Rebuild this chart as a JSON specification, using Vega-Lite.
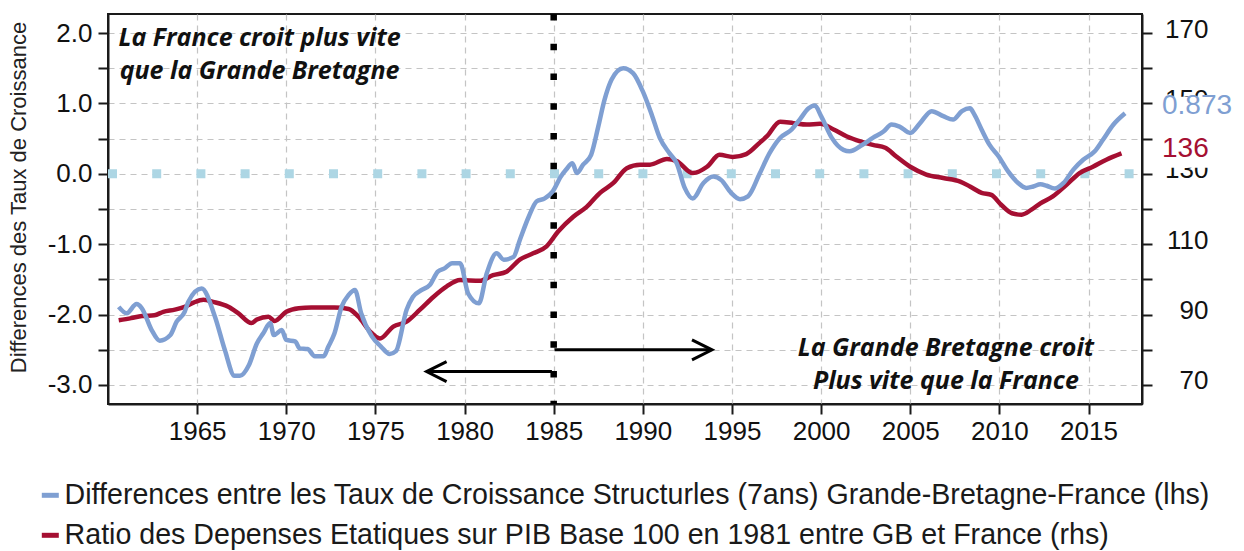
{
  "$schema": "https://vega.github.io/schema/vega-lite/v6.json",
  "width": 1034,
  "height": 390,
  "autosize": {"type": "none"},
  "padding": {"left": 108, "top": 14, "right": 102, "bottom": 147},
  "background": "white",
  "config": {
    "font": "Liberation Sans",
    "view": {"stroke": "#1a1a1a", "strokeWidth": 2},
    "axis": {
      "domainColor": "#1a1a1a", "domainWidth": 2,
      "tickColor": "#1a1a1a", "tickWidth": 2, "tickSize": 10,
      "labelColor": "#111111", "labelFontSize": 26, "labelFont": "Liberation Sans",
      "gridColor": "#c4c4c4", "gridDash": [6, 5], "gridWidth": 1.2
    }
  },
  "datasets": {
    "gb_fr": [
      {"year": 1960.6, "value": -1.89}, {"year": 1961.05, "value": -1.98}, {"year": 1961.6, "value": -1.85},
      {"year": 1961.9, "value": -1.91}, {"year": 1962.45, "value": -2.22}, {"year": 1962.9, "value": -2.37},
      {"year": 1963.5, "value": -2.29}, {"year": 1963.85, "value": -2.10}, {"year": 1964.3, "value": -1.96},
      {"year": 1964.5, "value": -1.82}, {"year": 1965.25, "value": -1.63}, {"year": 1966.0, "value": -2.03},
      {"year": 1966.55, "value": -2.50}, {"year": 1967.1, "value": -2.87}, {"year": 1967.4, "value": -2.87},
      {"year": 1967.9, "value": -2.72}, {"year": 1968.35, "value": -2.41}, {"year": 1968.7, "value": -2.27},
      {"year": 1969.1, "value": -2.12}, {"year": 1969.3, "value": -2.29}, {"year": 1969.75, "value": -2.22},
      {"year": 1970.0, "value": -2.36}, {"year": 1970.5, "value": -2.38}, {"year": 1970.75, "value": -2.48},
      {"year": 1971.2, "value": -2.49}, {"year": 1971.6, "value": -2.59}, {"year": 1972.1, "value": -2.59},
      {"year": 1972.35, "value": -2.46}, {"year": 1972.7, "value": -2.27}, {"year": 1973.1, "value": -1.89},
      {"year": 1973.5, "value": -1.72}, {"year": 1973.85, "value": -1.65}, {"year": 1974.2, "value": -1.98},
      {"year": 1974.8, "value": -2.31}, {"year": 1975.3, "value": -2.45}, {"year": 1975.8, "value": -2.56},
      {"year": 1976.15, "value": -2.52}, {"year": 1976.75, "value": -1.93}, {"year": 1977.1, "value": -1.75},
      {"year": 1977.6, "value": -1.65}, {"year": 1978.05, "value": -1.58}, {"year": 1978.5, "value": -1.39},
      {"year": 1978.9, "value": -1.34}, {"year": 1979.3, "value": -1.27}, {"year": 1979.75, "value": -1.27},
      {"year": 1980.2, "value": -1.70}, {"year": 1980.8, "value": -1.84}, {"year": 1981.25, "value": -1.41},
      {"year": 1981.8, "value": -1.13}, {"year": 1982.2, "value": -1.22}, {"year": 1982.75, "value": -1.18},
      {"year": 1983.1, "value": -0.94}, {"year": 1983.6, "value": -0.61}, {"year": 1984.05, "value": -0.39},
      {"year": 1984.5, "value": -0.35}, {"year": 1984.95, "value": -0.25}, {"year": 1985.4, "value": -0.04},
      {"year": 1985.7, "value": 0.06}, {"year": 1986.05, "value": 0.15}, {"year": 1986.3, "value": 0.01},
      {"year": 1986.65, "value": 0.13}, {"year": 1987.1, "value": 0.27}, {"year": 1987.5, "value": 0.67},
      {"year": 1987.85, "value": 1.05}, {"year": 1988.25, "value": 1.34}, {"year": 1988.9, "value": 1.50},
      {"year": 1989.45, "value": 1.43}, {"year": 1990.0, "value": 1.17}, {"year": 1990.5, "value": 0.84},
      {"year": 1990.95, "value": 0.51}, {"year": 1991.5, "value": 0.29}, {"year": 1991.9, "value": 0.15},
      {"year": 1992.35, "value": -0.20}, {"year": 1992.8, "value": -0.35}, {"year": 1993.4, "value": -0.13},
      {"year": 1993.95, "value": -0.04}, {"year": 1994.4, "value": -0.09}, {"year": 1994.95, "value": -0.27},
      {"year": 1995.45, "value": -0.36}, {"year": 1995.9, "value": -0.32}, {"year": 1996.55, "value": 0.0},
      {"year": 1997.1, "value": 0.29}, {"year": 1997.7, "value": 0.51}, {"year": 1998.35, "value": 0.63},
      {"year": 1998.8, "value": 0.77}, {"year": 1999.3, "value": 0.93}, {"year": 1999.65, "value": 0.97},
      {"year": 2000.0, "value": 0.82}, {"year": 2000.6, "value": 0.51}, {"year": 2001.25, "value": 0.34},
      {"year": 2001.6, "value": 0.32}, {"year": 2002.3, "value": 0.41}, {"year": 2002.9, "value": 0.51},
      {"year": 2003.5, "value": 0.60}, {"year": 2003.95, "value": 0.70}, {"year": 2004.4, "value": 0.67},
      {"year": 2005.0, "value": 0.58}, {"year": 2005.55, "value": 0.72}, {"year": 2006.2, "value": 0.89},
      {"year": 2006.85, "value": 0.82}, {"year": 2007.4, "value": 0.77}, {"year": 2007.9, "value": 0.89},
      {"year": 2008.35, "value": 0.93}, {"year": 2008.6, "value": 0.84}, {"year": 2009.0, "value": 0.63},
      {"year": 2009.45, "value": 0.41}, {"year": 2009.95, "value": 0.25}, {"year": 2010.5, "value": 0.03},
      {"year": 2011.05, "value": -0.13}, {"year": 2011.5, "value": -0.20}, {"year": 2011.9, "value": -0.18},
      {"year": 2012.3, "value": -0.15}, {"year": 2012.65, "value": -0.17}, {"year": 2013.1, "value": -0.21},
      {"year": 2013.6, "value": -0.13}, {"year": 2014.15, "value": 0.06}, {"year": 2014.7, "value": 0.20},
      {"year": 2015.35, "value": 0.32}, {"year": 2015.8, "value": 0.48}, {"year": 2016.4, "value": 0.70},
      {"year": 2017.05, "value": 0.86}
    ],
    "depenses": [
      {"year": 1960.6, "value": 88.4}, {"year": 1961.3, "value": 89.0}, {"year": 1961.9, "value": 89.6},
      {"year": 1962.6, "value": 89.8}, {"year": 1963.1, "value": 90.8}, {"year": 1963.75, "value": 91.4},
      {"year": 1964.3, "value": 92.2}, {"year": 1964.8, "value": 93.4}, {"year": 1965.35, "value": 94.2},
      {"year": 1965.9, "value": 93.6}, {"year": 1966.75, "value": 92.2}, {"year": 1967.3, "value": 90.4},
      {"year": 1968.05, "value": 87.6}, {"year": 1968.35, "value": 88.6}, {"year": 1969.0, "value": 89.4},
      {"year": 1969.35, "value": 88.2}, {"year": 1970.0, "value": 90.8}, {"year": 1970.7, "value": 91.8},
      {"year": 1971.4, "value": 92.0}, {"year": 1972.7, "value": 92.0}, {"year": 1973.5, "value": 91.6},
      {"year": 1974.05, "value": 89.4}, {"year": 1974.7, "value": 85.2}, {"year": 1975.25, "value": 83.2},
      {"year": 1976.0, "value": 86.6}, {"year": 1976.75, "value": 88.0}, {"year": 1977.5, "value": 91.4},
      {"year": 1978.25, "value": 95.0}, {"year": 1979.0, "value": 98.0}, {"year": 1979.75, "value": 99.8},
      {"year": 1980.85, "value": 99.6}, {"year": 1981.6, "value": 101.2}, {"year": 1982.35, "value": 102.2},
      {"year": 1983.1, "value": 105.6}, {"year": 1983.85, "value": 107.4}, {"year": 1984.6, "value": 109.4},
      {"year": 1985.25, "value": 113.6}, {"year": 1986.1, "value": 117.8}, {"year": 1986.85, "value": 120.6},
      {"year": 1987.6, "value": 124.6}, {"year": 1988.35, "value": 127.4}, {"year": 1989.1, "value": 131.6},
      {"year": 1989.85, "value": 132.6}, {"year": 1990.4, "value": 132.6}, {"year": 1991.35, "value": 134.2},
      {"year": 1991.9, "value": 133.6}, {"year": 1992.8, "value": 130.2}, {"year": 1993.6, "value": 132.0},
      {"year": 1994.3, "value": 135.4}, {"year": 1995.05, "value": 134.8}, {"year": 1995.8, "value": 135.6},
      {"year": 1996.55, "value": 138.8}, {"year": 1996.95, "value": 140.6}, {"year": 1997.7, "value": 144.8},
      {"year": 1998.45, "value": 144.4}, {"year": 1999.2, "value": 144.0}, {"year": 1999.95, "value": 144.2},
      {"year": 2000.7, "value": 142.6}, {"year": 2001.45, "value": 140.6}, {"year": 2002.2, "value": 139.2},
      {"year": 2002.9, "value": 138.2}, {"year": 2003.6, "value": 137.4}, {"year": 2004.2, "value": 135.0},
      {"year": 2005.0, "value": 132.0}, {"year": 2005.9, "value": 129.8}, {"year": 2006.85, "value": 128.8},
      {"year": 2007.8, "value": 127.8}, {"year": 2008.35, "value": 126.4}, {"year": 2009.0, "value": 124.6},
      {"year": 2009.55, "value": 124.0}, {"year": 2010.1, "value": 121.2}, {"year": 2010.7, "value": 118.8},
      {"year": 2011.25, "value": 118.4}, {"year": 2011.8, "value": 119.8}, {"year": 2012.3, "value": 121.6},
      {"year": 2013.0, "value": 123.6}, {"year": 2013.75, "value": 126.8}, {"year": 2014.5, "value": 130.2},
      {"year": 2015.25, "value": 132.0}, {"year": 2016.0, "value": 134.0}, {"year": 2016.85, "value": 135.8}
    ]
  },
  "layer": [
    {
      "data": {"values": [{}]},
      "mark": {"type": "rule", "color": "#add6e4", "strokeWidth": 9, "strokeDash": [9, 35.2], "strokeDashOffset": 35.8, "strokeCap": "butt"},
      "encoding": {"y": {"datum": 0, "type": "quantitative", "scale": {"domain": [-3.27, 2.27], "nice": false, "zero": false}, "axis": null}}
    },
    {
      "data": {"values": [{}]},
      "mark": {"type": "rule", "color": "#000000", "strokeWidth": 6.5, "strokeDash": [6.5, 23.25], "strokeCap": "butt"},
      "encoding": {"x": {"datum": 1985, "type": "quantitative", "scale": {"domain": [1960, 2018], "nice": false, "zero": false}}}
    },
    {
      "data": {"name": "depenses"},
      "mark": {"type": "line", "strokeWidth": 4.5, "interpolate": "monotone", "strokeJoin": "round"},
      "encoding": {
        "x": {"field": "year", "type": "quantitative", "scale": {"domain": [1960, 2018], "nice": false, "zero": false}},
        "y": {
          "field": "value", "type": "quantitative",
          "scale": {"domain": [64.6, 175.4], "nice": false, "zero": false},
          "axis": {
            "orient": "right", "title": null, "grid": false,
            "values": [70, 80, 90, 100, 110, 120, 130, 140, 150, 160, 170],
            "labelExpr": "(datum.value - 70) % 20 == 0 ? datum.value : ''",
            "labelAlign": "right", "labelPadding": 56, "labelFontSize": 26, "labelBaseline": "middle", "labelOffset": -4
          }
        },
        "color": {
          "datum": "Ratio des Depenses Etatiques sur PIB Base 100 en 1981 entre GB et France (rhs)",
          "type": "nominal",
          "scale": {
            "domain": [
              "Differences entre les Taux de Croissance Structurles (7ans) Grande-Bretagne-France (lhs)",
              "Ratio des Depenses Etatiques sur PIB Base 100 en 1981 entre GB et France (rhs)"
            ],
            "range": ["#7f9fd2", "#a50f32"]
          },
          "legend": {
            "orient": "none", "legendX": -72, "legendY": 467, "direction": "vertical",
            "title": null, "symbolType": "stroke", "symbolStrokeWidth": 5, "symbolSize": 289,
            "labelFontSize": 28.6, "labelColor": "#1a1a1a", "labelLimit": 0, "rowPadding": 11,
            "labelOffset": 0, "padding": 0
          }
        }
      }
    },
    {
      "data": {"name": "gb_fr"},
      "mark": {"type": "line", "strokeWidth": 4.5, "interpolate": "monotone", "strokeJoin": "round"},
      "encoding": {
        "x": {
          "field": "year", "type": "quantitative",
          "scale": {"domain": [1960, 2018], "nice": false, "zero": false},
          "axis": {
            "title": null, "values": [1965, 1970, 1975, 1980, 1985, 1990, 1995, 2000, 2005, 2010, 2015],
            "format": "d", "labelPadding": 4, "grid": true
          }
        },
        "y": {
          "field": "value", "type": "quantitative",
          "scale": {"domain": [-3.27, 2.27], "nice": false, "zero": false},
          "axis": {
            "orient": "left", "title": "Differences des Taux de Croissance",
            "values": [-3, -2.5, -2, -1.5, -1, -0.5, 0, 0.5, 1, 1.5, 2],
            "labelExpr": "abs(datum.value % 1) < 0.01 ? (datum.value < 0 ? '-' : '') + format(abs(datum.value), '.1f') : ''",
            "labelPadding": 6, "grid": true,
            "titleFontSize": 22, "titleFontWeight": "normal", "titleColor": "#222222",
            "titleX": -90, "titleY": 183, "titleAngle": -90, "titleBaseline": "middle", "titleAlign": "center"
          }
        },
        "color": {
          "datum": "Differences entre les Taux de Croissance Structurles (7ans) Grande-Bretagne-France (lhs)",
          "type": "nominal"
        }
      }
    },
    {
      "data": {"values": [{}]},
      "mark": {"type": "rule", "color": "#000000", "strokeWidth": 3},
      "encoding": {
        "x": {"datum": 1984.9, "type": "quantitative"},
        "x2": {"datum": 1977.9},
        "y": {"datum": -2.81, "type": "quantitative", "scale": {"domain": [-3.27, 2.27], "nice": false, "zero": false}, "axis": null}
      }
    },
    {
      "data": {"values": [{}]},
      "mark": {"type": "rule", "color": "#000000", "strokeWidth": 3},
      "encoding": {
        "x": {"datum": 1985.05, "type": "quantitative"},
        "x2": {"datum": 1993.85},
        "y": {"datum": -2.5, "type": "quantitative", "scale": {"domain": [-3.27, 2.27], "nice": false, "zero": false}, "axis": null}
      }
    },
    {
      "data": {"values": [{}]},
      "mark": {"type": "point", "shape": "M2,-1L0,0L2,1", "size": 400, "filled": false, "stroke": "#000000", "strokeWidth": 3, "opacity": 1},
      "encoding": {
        "x": {"datum": 1977.87, "type": "quantitative"},
        "y": {"datum": -2.81, "type": "quantitative", "scale": {"domain": [-3.27, 2.27], "nice": false, "zero": false}, "axis": null}
      }
    },
    {
      "data": {"values": [{}]},
      "mark": {"type": "point", "shape": "M-2,-1L0,0L-2,1", "size": 400, "filled": false, "stroke": "#000000", "strokeWidth": 3, "opacity": 1},
      "encoding": {
        "x": {"datum": 1993.88, "type": "quantitative"},
        "y": {"datum": -2.5, "type": "quantitative", "scale": {"domain": [-3.27, 2.27], "nice": false, "zero": false}, "axis": null}
      }
    },
    {
      "data": {"values": [{}]},
      "mark": {"type": "text", "font": "Open Sans", "fontStyle": "italic", "fontWeight": "bold", "fontSize": 25, "lineHeight": 33, "align": "center", "baseline": "middle", "color": "#111111"},
      "encoding": {
        "x": {"datum": 1968.5, "type": "quantitative"},
        "y": {"datum": 1.93, "type": "quantitative", "scale": {"domain": [-3.27, 2.27], "nice": false, "zero": false}, "axis": null},
        "text": {"value": ["La France croit plus vite", "que la Grande Bretagne"]}
      }
    },
    {
      "data": {"values": [{}]},
      "mark": {"type": "text", "font": "Open Sans", "fontStyle": "italic", "fontWeight": "bold", "fontSize": 25, "lineHeight": 33, "align": "center", "baseline": "middle", "color": "#111111"},
      "encoding": {
        "x": {"datum": 2007.0, "type": "quantitative"},
        "y": {"datum": -2.475, "type": "quantitative", "scale": {"domain": [-3.27, 2.27], "nice": false, "zero": false}, "axis": null},
        "text": {"value": ["La Grande Bretagne croit", "Plus vite que la France"]}
      }
    },
    {
      "data": {"values": [{}]},
      "mark": {"type": "rect", "color": "white", "opacity": 1},
      "encoding": {
        "x": {"datum": 2019.0, "type": "quantitative"},
        "x2": {"datum": 2023.1},
        "y": {"datum": 1.095, "type": "quantitative", "scale": {"domain": [-3.27, 2.27], "nice": false, "zero": false}, "axis": null},
        "y2": {"datum": 0.085}
      }
    },
    {
      "data": {"values": [{}]},
      "mark": {"type": "text", "fontSize": 28, "align": "left", "baseline": "middle", "dx": 20, "dy": -6, "color": "#7f9fd2"},
      "encoding": {
        "x": {"datum": 2018, "type": "quantitative"},
        "y": {"datum": 0.873, "type": "quantitative", "scale": {"domain": [-3.27, 2.27], "nice": false, "zero": false}, "axis": null},
        "text": {"value": "0.873"}
      }
    },
    {
      "data": {"values": [{}]},
      "mark": {"type": "text", "fontSize": 28, "align": "left", "baseline": "middle", "dx": 20, "dy": -4, "color": "#a50f32"},
      "encoding": {
        "x": {"datum": 2018, "type": "quantitative"},
        "y": {"datum": 0.3, "type": "quantitative", "scale": {"domain": [-3.27, 2.27], "nice": false, "zero": false}, "axis": null},
        "text": {"value": "136"}
      }
    }
  ],
  "resolve": {"scale": {"y": "independent"}}
}
